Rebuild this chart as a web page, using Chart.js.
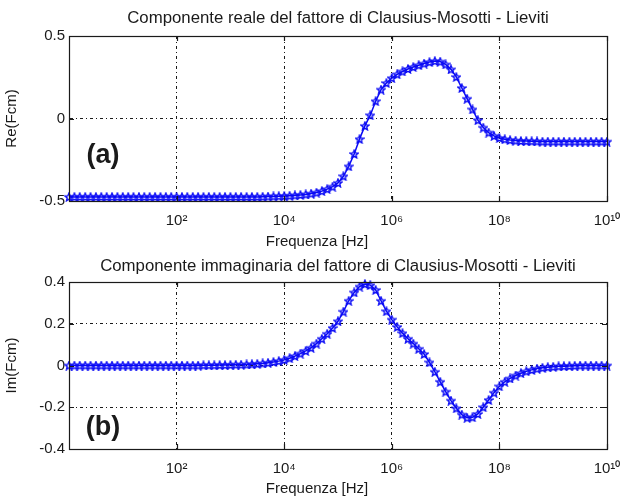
<!DOCTYPE html>
<html><head><meta charset="utf-8">
<script src="https://cdn.jsdelivr.net/npm/chart.js@4"></script>
<style>
html,body{margin:0;padding:0;background:#fff;}
#wrap{position:relative;width:623px;height:497px;overflow:hidden;background:#fff;}
canvas{position:absolute;left:0;}
#c1{top:0;} #c2{top:250px;}
</style></head><body>
<div id="wrap"><canvas id="c1" width="623" height="250"></canvas><canvas id="c2" width="623" height="247"></canvas></div>
<script>
// ---- data (frequency in Hz) ----
const freqHz = [
  1e0,1.26e0,1.58e0,2e0,2.51e0,3.16e0,3.98e0,5.01e0,6.31e0,7.94e0,
  1e1,1.26e1,1.58e1,2e1,2.51e1,3.16e1,3.98e1,5.01e1,6.31e1,7.94e1,
  1e2,1.26e2,1.58e2,2e2,2.51e2,3.16e2,3.98e2,5.01e2,6.31e2,7.94e2,
  1e3,1.26e3,1.58e3,2e3,2.51e3,3.16e3,3.98e3,5.01e3,6.31e3,7.94e3,
  1e4,1.26e4,1.58e4,2e4,2.51e4,3.16e4,3.98e4,5.01e4,6.31e4,7.94e4,
  1e5,1.26e5,1.58e5,2e5,2.51e5,3.16e5,3.98e5,5.01e5,6.31e5,7.94e5,
  1e6,1.26e6,1.58e6,2e6,2.51e6,3.16e6,3.98e6,5.01e6,6.31e6,7.94e6,
  1e7,1.26e7,1.58e7,2e7,2.51e7,3.16e7,3.98e7,5.01e7,6.31e7,7.94e7,
  1e8,1.26e8,1.58e8,2e8,2.51e8,3.16e8,3.98e8,5.01e8,6.31e8,7.94e8,
  1e9,1.26e9,1.58e9,2e9,2.51e9,3.16e9,3.98e9,5.01e9,6.31e9,7.94e9,
  1e10
];
const reFcm = [
  -0.475,-0.475,-0.475,-0.475,-0.475,-0.475,-0.475,-0.475,-0.475,-0.475,
  -0.475,-0.475,-0.475,-0.475,-0.475,-0.475,-0.475,-0.475,-0.475,-0.475,
  -0.475,-0.475,-0.475,-0.475,-0.475,-0.475,-0.475,-0.475,-0.475,-0.475,
  -0.475,-0.475,-0.475,-0.475,-0.475,-0.475,-0.474,-0.473,-0.472,-0.471,
  -0.47,-0.468,-0.466,-0.463,-0.46,-0.455,-0.449,-0.44,-0.428,-0.413,
  -0.39,-0.35,-0.29,-0.215,-0.125,-0.045,0.02,0.105,0.175,0.215,
  0.245,0.268,0.285,0.3,0.312,0.323,0.333,0.342,0.348,0.345,
  0.328,0.298,0.252,0.185,0.12,0.055,-0.01,-0.055,-0.085,-0.105,
  -0.118,-0.126,-0.131,-0.134,-0.136,-0.137,-0.138,-0.139,-0.14,-0.14,
  -0.14,-0.14,-0.14,-0.14,-0.14,-0.14,-0.14,-0.14,-0.14,-0.14,
  -0.14
];
const imFcm = [
  0,0,0,0,0,0,0,0,0,0,
  0,0,0,0,0,0,0,0,0,0,
  0,0,0,0,0,0.001,0.001,0.001,0.002,0.002,
  0.003,0.004,0.004,0.005,0.006,0.008,0.01,0.013,0.017,0.021,
  0.027,0.035,0.045,0.057,0.07,0.085,0.105,0.128,0.152,0.18,
  0.212,0.258,0.31,0.35,0.378,0.39,0.385,0.362,0.31,0.26,
  0.22,0.185,0.155,0.128,0.105,0.08,0.055,0.015,-0.03,-0.078,
  -0.125,-0.168,-0.205,-0.235,-0.25,-0.248,-0.232,-0.2,-0.165,-0.13,
  -0.1,-0.078,-0.062,-0.048,-0.037,-0.028,-0.021,-0.015,-0.011,-0.008,
  -0.006,-0.004,-0.003,-0.002,-0.001,0,0,0,0,0,
  0
];
const xTickValues = [1e2,1e4,1e6,1e8,1e10];
const xTickLabels = ['10²','10⁴','10⁶','10⁸','10¹⁰'];
const reTicks = [-0.5,0,0.5];
const reTickLabels = ['-0.5','0','0.5'];
const imTicks = [-0.4,-0.2,0,0.2,0.4];
const imTickLabels = ['-0.4','-0.2','0','0.2','0.4'];
const titles = ['Componente reale del fattore di Clausius-Mosotti - Lieviti',
                'Componente immaginaria del fattore di Clausius-Mosotti - Lieviti'];
const yAxisTitles = ['Re(Fcm)','Im(Fcm)'];
const xAxisTitle = 'Frequenza [Hz]';
const panelTags = ['(a)','(b)'];

// ---- styling helpers ----
const FONT = '"Liberation Sans", Arial, sans-serif';
const BLUE = '#0a0af5';
const INK = '#1a1a1a';

function pentagram(size, color){
  const c = document.createElement('canvas');
  c.width = c.height = size;
  const g = c.getContext('2d');
  const cx = size/2, cy = size/2 + 0.4, r = size/2 - 0.8;
  g.beginPath();
  for (let k = 0; k < 10; k++){
    const ang = -Math.PI/2 + k*Math.PI/5;
    const rr = (k % 2) ? r*0.45 : r;
    g.lineTo(cx + rr*Math.cos(ang), cy + rr*Math.sin(ang));
  }
  g.closePath();
  g.strokeStyle = color; g.lineWidth = 1.4; g.stroke();
  return c;
}
const marker = pentagram(10, BLUE);

const framePlugin = {
  id: 'frame',
  afterDraw(chart, args, opts){
    const {ctx, chartArea: a, scales} = chart;
    ctx.save();
    ctx.strokeStyle = INK; ctx.lineWidth = 1.2;
    ctx.strokeRect(Math.round(a.left)+0.5, Math.round(a.top)+0.5,
                   Math.round(a.right-a.left), Math.round(a.bottom-a.top));
    const L = 5;
    ctx.beginPath();
    scales.x.ticks.forEach(t => {
      const p = Math.round(scales.x.getPixelForValue(t.value)) + 0.5;
      ctx.moveTo(p, a.bottom); ctx.lineTo(p, a.bottom - L);
      ctx.moveTo(p, a.top); ctx.lineTo(p, a.top + L);
    });
    scales.y.ticks.forEach(t => {
      const p = Math.round(scales.y.getPixelForValue(t.value)) + 0.5;
      ctx.moveTo(a.left, p); ctx.lineTo(a.left + L, p);
      ctx.moveTo(a.right, p); ctx.lineTo(a.right - L, p);
    });
    ctx.stroke();
    ctx.fillStyle = INK; ctx.textAlign = 'center'; ctx.textBaseline = 'middle';
    // panel tag
    ctx.font = 'bold 27px ' + FONT;
    ctx.fillText(opts.tag, scales.x.getPixelForValue(opts.tagX), scales.y.getPixelForValue(opts.tagY));
    // title above the axes
    ctx.font = '16.8px ' + FONT;
    ctx.fillText(opts.title, (a.left + a.right)/2, opts.titleY);
    // x axis label
    ctx.font = '15px ' + FONT;
    ctx.fillText(opts.xTitle, (a.left + a.right)/2 + opts.xTitleShift, chart.height - 8);
    ctx.restore();
  }
};

function makeChart(id, values, yTicks, yTickLabels, yMin, yMax, title, yTitle, tag, tagY, topPad, titleY, xAxisH){
  const data = freqHz.map((f, i) => ({x: f, y: values[i]}));
  return new Chart(document.getElementById(id), {
    type: 'line',
    data: { datasets: [{
      data,
      borderColor: BLUE, borderWidth: 1.5, tension: 0,
      pointStyle: marker, pointRadius: 4, pointBorderColor: BLUE,
      clip: false
    }]},
    options: {
      responsive: false, animation: false, devicePixelRatio: 1,
      layout: { padding: { left: 0, right: 16, top: topPad, bottom: 0 } },
      plugins: {
        legend: { display: false }, tooltip: { enabled: false }, title: { display: false },
        frame: { tag, tagX: 4.3, tagY, title, titleY, xTitle: xAxisTitle, xTitleShift: -21 }
      },
      scales: {
        x: {
          type: 'logarithmic', min: 1, max: 1e10, position: 'bottom',
          afterBuildTicks: s => { s.ticks = xTickValues.map(v => ({value: v})); },
          afterFit: s => { s.height = xAxisH; s.paddingLeft = 0; s.paddingRight = 0; },
          ticks: { autoSkip: false, maxRotation: 0, minRotation: 0, padding: 11, color: INK,
                   font: { family: FONT, size: 15 },
                   callback: (v, i) => xTickLabels[i] },
          grid: { color: INK, lineWidth: 1, drawTicks: false },
          border: { display: true, color: INK, width: 1, dash: [3, 3, 1, 3] },
          title: { display: false }
        },
        y: {
          type: 'linear', min: yMin, max: yMax,
          afterBuildTicks: s => { s.ticks = yTicks.map(v => ({value: v})); },
          afterFit: s => { s.width = 69; s.paddingTop = 0; s.paddingBottom = 0; },
          ticks: { autoSkip: false, padding: 4, color: INK,
                   font: { family: FONT, size: 15 },
                   callback: (v, i) => yTickLabels[i] },
          grid: { color: INK, lineWidth: 1, drawTicks: false },
          border: { display: true, color: INK, width: 1, dash: [3, 3, 1, 3] },
          title: { display: true, text: yTitle, color: INK,
                   font: { family: FONT, size: 15 }, padding: { top: 3, bottom: 0 } }
        }
      }
    },
    plugins: [framePlugin]
  });
}

makeChart('c1', reFcm, reTicks, reTickLabels, -0.5, 0.5, titles[0], yAxisTitles[0], panelTags[0], -0.222,
          36, 18.5, 49);
makeChart('c2', imFcm, imTicks, imTickLabels, -0.4, 0.4, titles[1], yAxisTitles[1], panelTags[1], -0.298,
          32, 16, 48);
</script>
</body></html>
